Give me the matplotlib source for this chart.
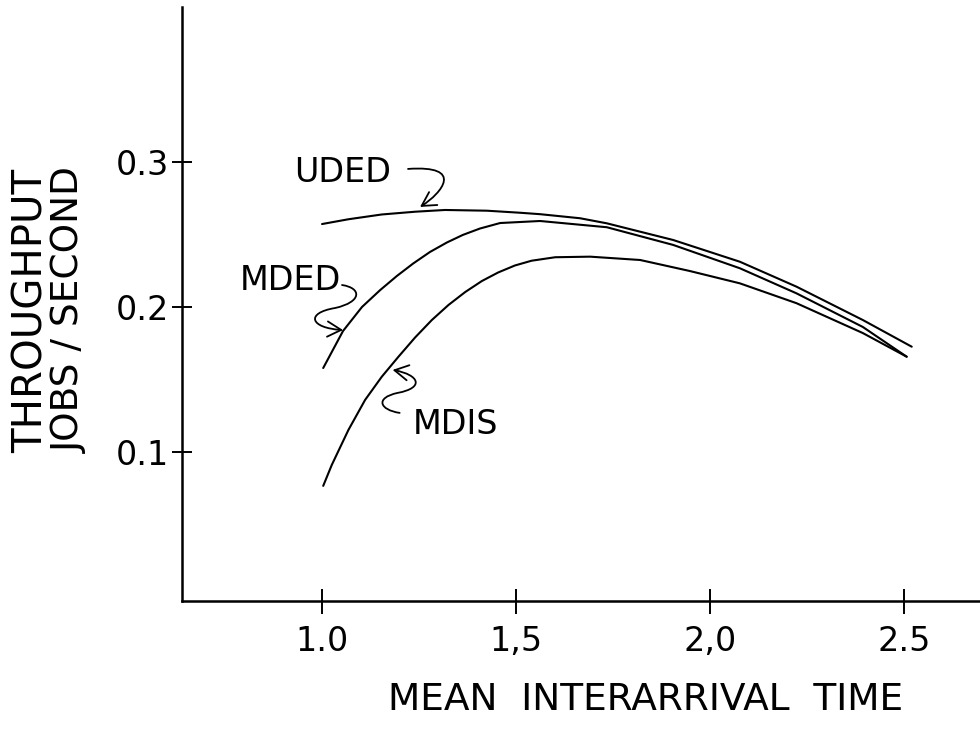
import matplotlib
matplotlib.use("Agg")
import matplotlib.pyplot as plt
from matplotlib.path import Path
from matplotlib.patches import FancyArrowPatch
from matplotlib.transforms import ScaledTranslation, Affine2D

# ---- data ----
uded_x = [1.000, 1.068, 1.154, 1.240, 1.317, 1.425, 1.510, 1.562, 1.665, 1.734,
          1.905, 2.077, 2.223, 2.394, 2.520]
uded_y = [0.2572, 0.2605, 0.2638, 0.2657, 0.2669, 0.2664, 0.2650, 0.2640, 0.2612, 0.2577,
          0.2462, 0.2312, 0.2140, 0.1910, 0.1726]

mded_x = [1.003, 1.054, 1.103, 1.150, 1.193, 1.235, 1.278, 1.322, 1.363, 1.407,
          1.459, 1.562, 1.734, 1.905, 2.077, 2.223, 2.394, 2.507]
mded_y = [0.1579, 0.1834, 0.2000, 0.2117, 0.2214, 0.2300, 0.2379, 0.2445, 0.2497, 0.2541,
          0.2579, 0.2593, 0.2550, 0.2428, 0.2267, 0.2094, 0.1862, 0.1657]

mdis_x = [1.003, 1.025, 1.068, 1.111, 1.154, 1.197, 1.240, 1.283, 1.326, 1.369, 1.412,
          1.454, 1.497, 1.540, 1.601, 1.691, 1.820, 1.948, 2.077, 2.223, 2.394, 2.507]
mdis_y = [0.0766, 0.0910, 0.1152, 0.1359, 0.1519, 0.1657, 0.1790, 0.1910, 0.2014, 0.2103, 0.2179,
          0.2238, 0.2286, 0.2319, 0.2343, 0.2347, 0.2324, 0.2248, 0.2163, 0.2026, 0.1820, 0.1657]

x_ticks = [1.0, 1.5, 2.0, 2.5]
x_tick_labels = ["1.0", "1,5", "2,0", "2.5"]
y_ticks = [0.1, 0.2, 0.3]
y_tick_labels = ["0.1", "0.2", "0.3"]

xlabel = "MEAN  INTERARRIVAL  TIME"
ylabel_lines = ["THROUGHPUT", "JOBS / SECOND"]

plt.rcParams['font.family'] = ['DejaVu Sans']

W, H = 980, 734
fig = plt.figure(figsize=(W / 100, H / 100), dpi=100)
ax = fig.add_axes([182 / W, 1 - 601 / H, (W - 182) / W, (601 - 7) / H])
ax.set_xlim(0.639, 2.696)
ax.set_ylim(-0.0028, 0.4069)

lw = 1.5
for xs, ys in [(uded_x, uded_y), (mded_x, mded_y), (mdis_x, mdis_y)]:
    ax.plot(xs, ys, color='black', lw=lw, solid_joinstyle='round', solid_capstyle='round')

for s in ['top', 'right']:
    ax.spines[s].set_visible(False)
for s in ['left', 'bottom']:
    ax.spines[s].set_linewidth(1.8)

ax.set_xticks(x_ticks)
ax.set_xticklabels(x_tick_labels)
ax.set_yticks(y_ticks)
ax.set_yticklabels(y_tick_labels)
ax.tick_params(axis='x', direction='inout', length=18, width=1.4, labelsize=24, pad=8)
ax.tick_params(axis='y', direction='inout', length=15, width=1.4, labelsize=24, pad=2)

fig.text(646 / W, 1 - 700 / H, xlabel, ha='center', va='center', fontsize=27)
fig.text(32 / W, 1 - 311 / H, ylabel_lines[0], ha='center', va='center', rotation=90, fontsize=29)
fig.text(70 / W, 1 - 310 / H, ylabel_lines[1], ha='center', va='center', rotation=90, fontsize=27)

# curve labels
ax.text(1.054, 0.293, "UDED", ha='center', va='center', fontsize=24)
ax.text(0.9175, 0.2186, "MDED", ha='center', va='center', fontsize=24)
ax.text(1.345, 0.1186, "MDIS", ha='center', va='center', fontsize=24)


def squiggle(tip_x, tip_y, verts, codes):
    trans = Affine2D() + ScaledTranslation(tip_x, tip_y, ax.transData)
    p = Path(verts, codes)
    arr = FancyArrowPatch(path=p, arrowstyle='->,head_length=0.45,head_width=0.25',
                          mutation_scale=22, lw=1.3, color='black', transform=trans)
    ax.add_artist(arr)


C4 = Path.CURVE4
# UDED pointer
squiggle(1.2526, 0.2690,
         [(-12, 38), (45, 42), (22, 14), (0, 0)],
         [Path.MOVETO, C4, C4, C4])
# MDED pointer
squiggle(1.0541, 0.1841,
         [(-1, 45), (19, 42), (19, 28), (-8, 22), (-38, 17), (-33, 2), (0, 0)],
         [Path.MOVETO, C4, C4, C4, C4, C4, C4])
# MDIS pointer
squiggle(1.182, 0.1566,
         [(7, -43), (-13, -40), (-18, -28), (5, -23), (32, -18), (27, -5), (0, 0)],
         [Path.MOVETO, C4, C4, C4, C4, C4, C4])

fig.savefig("out.png", dpi=100)
